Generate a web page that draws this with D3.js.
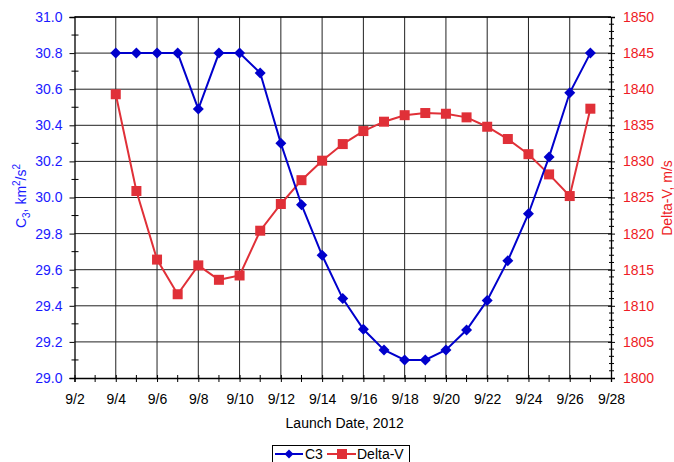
<!DOCTYPE html>
<html>
<head>
<meta charset="utf-8">
<script src="https://cdn.jsdelivr.net/npm/d3@7"></script>
<style>
  html, body { margin: 0; padding: 0; background: #fff; }
  svg { display: block; font-family: "Liberation Sans", Arial, sans-serif; }
</style>
</head>
<body>
<svg id="chart" width="674" height="462"></svg>
<script>
// Launch days in September 2012
const days = [4, 5, 6, 7, 8, 9, 10, 11, 12, 13, 14, 15, 16, 17, 18, 19, 20, 21, 22, 23, 24, 25, 26, 27];
// C3 (km^2/s^2)
const c3 = [30.80, 30.80, 30.80, 30.80, 30.49, 30.80, 30.80, 30.69, 30.30, 29.96, 29.68, 29.44,
            29.27, 29.155, 29.10, 29.10, 29.155, 29.266, 29.43, 29.65, 29.91, 30.225, 30.58, 30.80];
// Delta-V (m/s)
const deltaV = [1839.3, 1825.9, 1816.4, 1811.6, 1815.6, 1813.6, 1814.2, 1820.4, 1824.1, 1827.4,
                1830.1, 1832.4, 1834.2, 1835.5, 1836.4, 1836.7, 1836.6, 1836.1, 1834.8, 1833.1,
                1831.0, 1828.2, 1825.2, 1837.3];
const xTickDays = [2, 4, 6, 8, 10, 12, 14, 16, 18, 20, 22, 24, 26, 28];
const leftTicks = [29.0, 29.2, 29.4, 29.6, 29.8, 30.0, 30.2, 30.4, 30.6, 30.8, 31.0];
const rightTicks = [1800, 1805, 1810, 1815, 1820, 1825, 1830, 1835, 1840, 1845, 1850];

const blue = "#0000cc", blueText = "#1a1aff";
const red = "#e03038", redText = "#ee1c25";
const FONT = "Liberation Sans, Arial, sans-serif";

const svg = d3.select("#chart");
const m = { left: 74.5, right: 611, top: 17, bottom: 378 };

const x = d3.scaleLinear().domain([2, 28]).range([m.left, m.right]);
const yL = d3.scaleLinear().domain([29, 31]).range([m.bottom, m.top]);
const yR = d3.scaleLinear().domain([1800, 1850]).range([m.bottom, m.top]);

// grid
const grid = svg.append("g").attr("stroke", "#222").attr("stroke-width", 1);
grid.selectAll(".vg").data(xTickDays.slice(1, -1)).join("line")
  .attr("x1", d => x(d)).attr("x2", d => x(d)).attr("y1", m.top).attr("y2", m.bottom);
grid.selectAll(".hg").data(leftTicks.slice(1)).join("line")
  .attr("x1", m.left).attr("x2", m.right).attr("y1", d => yL(d)).attr("y2", d => yL(d));

// bottom axis
const xAxis = svg.append("g").attr("transform", `translate(0,${m.bottom})`)
  .call(d3.axisBottom(x).tickValues(xTickDays).tickFormat(d => "9/" + d).tickSize(4).tickPadding(12));
xAxis.call(g => g.select(".domain").attr("stroke", "#000").attr("stroke-width", 1.3));
xAxis.selectAll(".tick line").attr("y1", -3).attr("stroke", "#000");
xAxis.selectAll("text").attr("font-size", 14).attr("fill", "#000").attr("font-family", FONT);
xAxis.append("g").selectAll("line").data(d3.range(3, 28, 2)).join("line")
  .attr("x1", d => x(d)).attr("x2", d => x(d)).attr("y1", -3).attr("y2", 4).attr("stroke", "#000");

// left axis
const lAxis = svg.append("g").attr("transform", `translate(${m.left},0)`)
  .call(d3.axisLeft(yL).tickValues(leftTicks).tickFormat(d3.format(".1f")).tickSize(5).tickPadding(7));
lAxis.call(g => g.select(".domain").attr("stroke", "#000").attr("stroke-width", 1.3));
lAxis.selectAll(".tick line").attr("stroke", "#000");
lAxis.selectAll("text").attr("font-size", 14).attr("fill", blueText).attr("font-family", FONT);
lAxis.append("g").selectAll("line").data(d3.range(29.1, 31, 0.2)).join("line")
  .attr("x1", -3).attr("x2", 4).attr("y1", d => yL(d)).attr("y2", d => yL(d)).attr("stroke", "#000");

// right axis
const rAxis = svg.append("g").attr("transform", `translate(${m.right},0)`)
  .call(d3.axisRight(yR).tickValues(rightTicks).tickFormat(d3.format("d")).tickSize(4).tickPadding(8));
rAxis.call(g => g.select(".domain").attr("stroke", "#000").attr("stroke-width", 1.3));
rAxis.selectAll(".tick line").attr("x1", -3).attr("stroke", "#000");
rAxis.selectAll("text").attr("font-size", 14).attr("fill", redText).attr("font-family", FONT);
rAxis.append("g").selectAll("line").data(d3.range(1800, 1851).filter(v => v % 5 !== 0)).join("line")
  .attr("x1", -2).attr("x2", 3).attr("y1", d => yR(d)).attr("y2", d => yR(d)).attr("stroke", "#000");

// top frame
svg.append("line").attr("x1", m.left).attr("x2", m.right).attr("y1", m.top).attr("y2", m.top)
  .attr("stroke", "#000").attr("stroke-width", 1.3);

// axis titles
svg.append("text").attr("x", (m.left + m.right) / 2 + 2).attr("y", 428)
  .attr("text-anchor", "middle").attr("font-size", 14).attr("fill", "#000").text("Launch Date, 2012");

const lt = svg.append("text").attr("transform", "translate(26,196) rotate(-90)")
  .attr("text-anchor", "middle").attr("font-size", 14).attr("fill", blueText);
lt.append("tspan").text("C");
lt.append("tspan").attr("font-size", 10).attr("dy", 4).text("3");
lt.append("tspan").attr("dy", -4).text(", km");
lt.append("tspan").attr("font-size", 10).attr("dy", -6).text("2");
lt.append("tspan").attr("dy", 6).text("/s");
lt.append("tspan").attr("font-size", 10).attr("dy", -6).text("2");

svg.append("text").attr("transform", "translate(672,198) rotate(-90)")
  .attr("text-anchor", "middle").attr("font-size", 14).attr("fill", redText).text("Delta-V, m/s");

// series
function diamondPath(s) {
  return `M0,${-s}L${s},0L0,${s}L${-s},0Z`;
}

const lineL = d3.line().x((d, i) => x(days[i])).y(d => yL(d));
const lineR = d3.line().x((d, i) => x(days[i])).y(d => yR(d));

svg.append("path").datum(deltaV).attr("d", lineR).attr("fill", "none")
  .attr("stroke", red).attr("stroke-width", 2);
svg.append("g").selectAll("rect").data(deltaV).join("rect")
  .attr("x", (d, i) => x(days[i]) - 5).attr("y", d => yR(d) - 5)
  .attr("width", 10).attr("height", 10).attr("fill", red);

svg.append("path").datum(c3).attr("d", lineL).attr("fill", "none")
  .attr("stroke", blue).attr("stroke-width", 2);
svg.append("g").selectAll("path").data(c3).join("path")
  .attr("transform", (d, i) => `translate(${x(days[i])},${yL(d)})`)
  .attr("d", diamondPath(5.5)).attr("fill", blue);

// legend
const lg = svg.append("g");
lg.append("rect").attr("x", 272.5).attr("y", 445.5).attr("width", 137).attr("height", 20)
  .attr("fill", "#fff").attr("stroke", "#000").attr("stroke-width", 1);
lg.append("line").attr("x1", 275).attr("x2", 303).attr("y1", 454).attr("y2", 454).attr("stroke", blue).attr("stroke-width", 2);
lg.append("path").attr("transform", "translate(289,454)").attr("d", diamondPath(4.5)).attr("fill", blue);
lg.append("text").attr("x", 305).attr("y", 459).attr("font-size", 14).attr("fill", "#000").text("C3");
lg.append("line").attr("x1", 327).attr("x2", 356).attr("y1", 454).attr("y2", 454).attr("stroke", red).attr("stroke-width", 2);
lg.append("rect").attr("x", 337).attr("y", 449).attr("width", 10).attr("height", 10).attr("fill", red);
lg.append("text").attr("x", 357).attr("y", 459).attr("font-size", 14).attr("fill", "#000").text("Delta-V");
</script>
</body>
</html>
